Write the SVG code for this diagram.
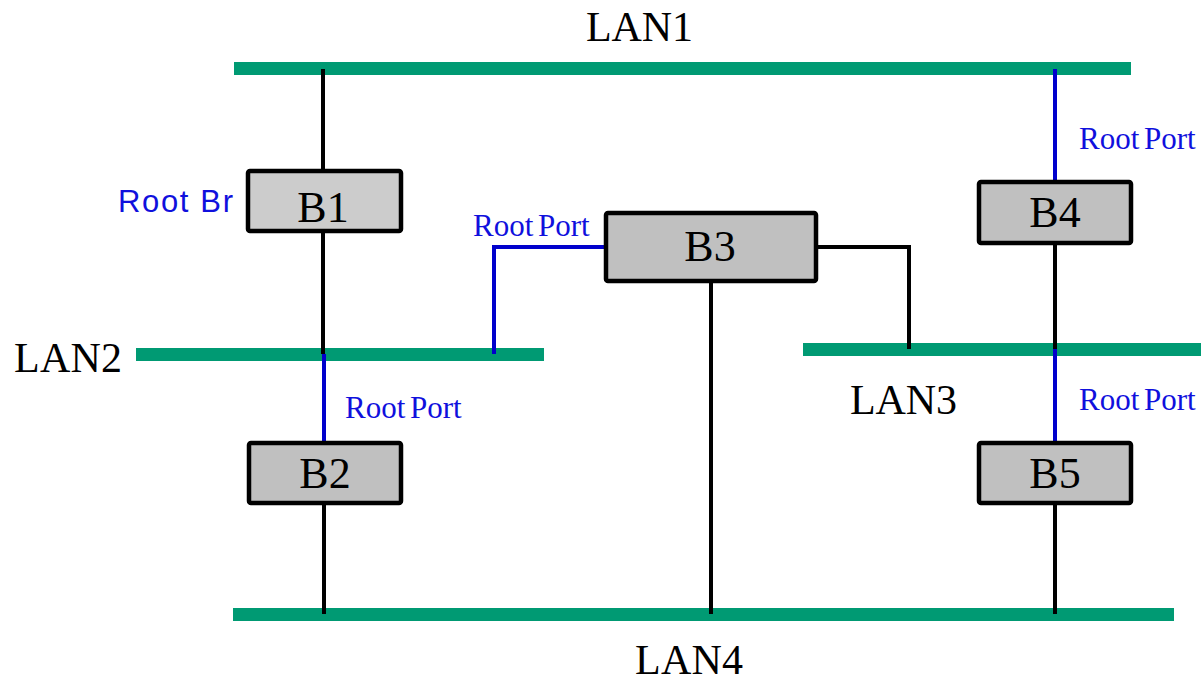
<svg xmlns="http://www.w3.org/2000/svg" width="1201" height="680" viewBox="0 0 1201 680">
<style>
.lan{fill:#009a73}
.w{stroke:#000;stroke-width:4;fill:none}
.rp{stroke:#0000cc;stroke-width:4;fill:none}
.box{stroke:#000;stroke-width:4.5}
.lbl{font-family:"Liberation Serif","Times New Roman",serif;font-size:42px;fill:#000}
.bl{font-family:"Liberation Serif","Times New Roman",serif;font-size:44px;fill:#000;text-anchor:middle}
.rpt{font-family:"Liberation Serif","Times New Roman",serif;font-size:31px;fill:#1010dd;word-spacing:-3px}
.rb{font-family:"Liberation Sans",Arial,sans-serif;font-size:31px;fill:#1010dd}
</style>
<g id="LAN1"><rect class="lan" x="234" y="62" width="897" height="13"/><text class="lbl" x="586" y="41" textLength="107">LAN1</text></g>
<g id="LAN2"><rect class="lan" x="136" y="348" width="408" height="13"/><text class="lbl" x="14" y="372" textLength="108">LAN2</text></g>
<g id="LAN3"><rect class="lan" x="803" y="343" width="398" height="13"/><text class="lbl" x="850" y="414" textLength="107">LAN3</text></g>
<g id="LAN4"><rect class="lan" x="233" y="608" width="941" height="13"/><text class="lbl" x="635" y="674" textLength="108">LAN4</text></g>
<g id="connectors">
<path class="w" d="M323 69V169"/>
<path class="w" d="M323 233V354"/>
<path class="rp" d="M324 354V441"/>
<path class="w" d="M324 505V614"/>
<path class="rp" d="M494 354V247H604"/>
<path class="w" d="M818 247H909V349"/>
<path class="w" d="M711 283V614"/>
<path class="rp" d="M1055 69V181"/>
<path class="w" d="M1055 244V349"/>
<path class="rp" d="M1055 349V441"/>
<path class="w" d="M1055 505V614"/>
</g>
<g id="B1"><rect class="box" x="248" y="171" width="153" height="60" rx="2" fill="#cccccc"/><text class="bl" x="323" y="222">B1</text><text class="rb" x="118" y="212" textLength="115">Root Br</text></g>
<g id="B2"><rect class="box" x="249" y="443" width="152" height="60" rx="2" fill="#c0c0c0"/><text class="bl" x="325" y="488">B2</text><text class="rpt" x="345" y="418">Root Port</text></g>
<g id="B3"><rect class="box" x="606" y="213" width="210" height="68" rx="2" fill="#c0c0c0"/><text class="bl" x="710" y="261">B3</text><text class="rpt" x="473" y="236">Root Port</text></g>
<g id="B4"><rect class="box" x="979" y="182" width="152" height="61" rx="2" fill="#c0c0c0"/><text class="bl" x="1055" y="227">B4</text><text class="rpt" x="1079" y="149">Root Port</text></g>
<g id="B5"><rect class="box" x="979" y="443" width="152" height="60" rx="2" fill="#c0c0c0"/><text class="bl" x="1055" y="488">B5</text><text class="rpt" x="1079" y="410">Root Port</text></g>
</svg>
